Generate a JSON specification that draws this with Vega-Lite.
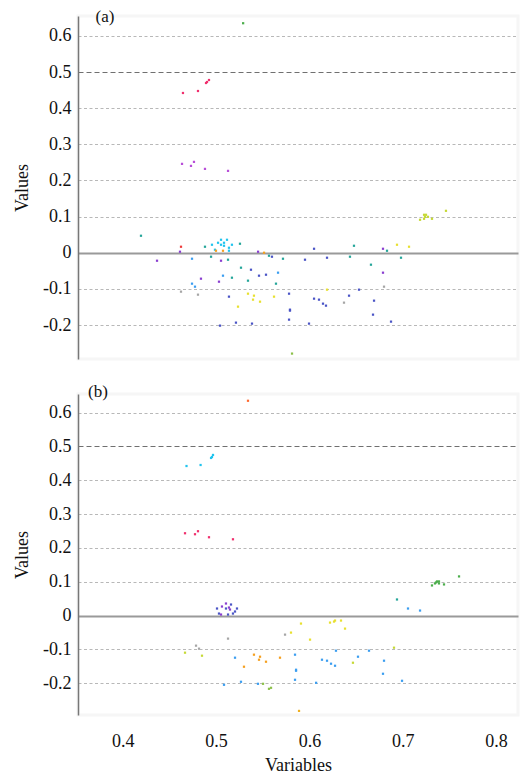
{
  "$schema": "https://vega.github.io/schema/vega-lite/v6.json",
  "background": "white",
  "padding": {"left": 12, "top": 6, "right": 0, "bottom": 4},
  "bounds": "flush",
  "spacing": 35,
  "config": {
    "view": {"stroke": "#f6f6f6", "strokeWidth": 3},
    "font": "Liberation Serif, Times New Roman, serif",
    "text": {"font": "Liberation Serif, Times New Roman, serif"},
    "axis": {
      "labelFont": "Liberation Serif, Times New Roman, serif",
      "labelFontSize": 18,
      "labelColor": "#111",
      "titleFont": "Liberation Serif, Times New Roman, serif",
      "titleFontSize": 18,
      "titleFontWeight": "normal",
      "titleColor": "#111"
    }
  },
  "datasets": {
    "a": [
      {"x": 0.529, "y": 0.635, "g": "green"},
      {"x": 0.4645, "y": 0.442, "g": "pink"},
      {"x": 0.4806, "y": 0.4475, "g": "pink"},
      {"x": 0.4892, "y": 0.4696, "g": "pink"},
      {"x": 0.4903, "y": 0.4724, "g": "pink"},
      {"x": 0.4924, "y": 0.4779, "g": "pink"},
      {"x": 0.4635, "y": 0.2459, "g": "magenta"},
      {"x": 0.4731, "y": 0.2403, "g": "magenta"},
      {"x": 0.4763, "y": 0.2514, "g": "magenta"},
      {"x": 0.4881, "y": 0.232, "g": "magenta"},
      {"x": 0.5128, "y": 0.2265, "g": "magenta"},
      {"x": 0.4195, "y": 0.047, "g": "teal"},
      {"x": 0.4624, "y": 0.0166, "g": "red"},
      {"x": 0.4613, "y": 0.0028, "g": "purple"},
      {"x": 0.4367, "y": -0.0221, "g": "purple"},
      {"x": 0.4742, "y": -0.0166, "g": "lblue"},
      {"x": 0.4881, "y": 0.0166, "g": "teal"},
      {"x": 0.4956, "y": 0.0221, "g": "cyan"},
      {"x": 0.4988, "y": 0.0083, "g": "cyan"},
      {"x": 0.4999, "y": 0.0055, "g": "orange"},
      {"x": 0.5021, "y": 0.0276, "g": "cyan"},
      {"x": 0.5053, "y": 0.0359, "g": "cyan"},
      {"x": 0.5053, "y": 0.0221, "g": "cyan"},
      {"x": 0.5074, "y": 0.0055, "g": "orange"},
      {"x": 0.5085, "y": 0.0276, "g": "cyan"},
      {"x": 0.5085, "y": 0.0193, "g": "cyan"},
      {"x": 0.5117, "y": 0.0359, "g": "cyan"},
      {"x": 0.5138, "y": 0.0138, "g": "cyan"},
      {"x": 0.5138, "y": 0.0055, "g": "cyan"},
      {"x": 0.517, "y": 0.0221, "g": "cyan"},
      {"x": 0.5256, "y": 0.0249, "g": "teal"},
      {"x": 0.4946, "y": -0.011, "g": "teal"},
      {"x": 0.5053, "y": -0.0221, "g": "purple"},
      {"x": 0.5128, "y": -0.0193, "g": "teal"},
      {"x": 0.5267, "y": -0.0414, "g": "teal"},
      {"x": 0.5374, "y": -0.047, "g": "blue"},
      {"x": 0.546, "y": -0.0635, "g": "blue"},
      {"x": 0.5074, "y": -0.0635, "g": "lblue"},
      {"x": 0.517, "y": -0.0691, "g": "teal"},
      {"x": 0.5342, "y": -0.0773, "g": "teal"},
      {"x": 0.4838, "y": -0.0718, "g": "purple"},
      {"x": 0.5031, "y": -0.0801, "g": "purple"},
      {"x": 0.4742, "y": -0.0856, "g": "lblue"},
      {"x": 0.4774, "y": -0.0939, "g": "lblue"},
      {"x": 0.4624, "y": -0.1077, "g": "gray"},
      {"x": 0.4806, "y": -0.116, "g": "gray"},
      {"x": 0.5138, "y": -0.1215, "g": "blue"},
      {"x": 0.5342, "y": -0.1133, "g": "yellow"},
      {"x": 0.5406, "y": -0.1188, "g": "yellow"},
      {"x": 0.5396, "y": -0.1298, "g": "yellow"},
      {"x": 0.5471, "y": -0.1354, "g": "yellow"},
      {"x": 0.5235, "y": -0.1492, "g": "yellow"},
      {"x": 0.5213, "y": -0.1934, "g": "blue"},
      {"x": 0.5042, "y": -0.2017, "g": "blue"},
      {"x": 0.5385, "y": -0.1961, "g": "blue"},
      {"x": 0.5514, "y": 0.0, "g": "orange"},
      {"x": 0.5567, "y": -0.0083, "g": "teal"},
      {"x": 0.5599, "y": -0.011, "g": "blue"},
      {"x": 0.5717, "y": -0.0166, "g": "teal"},
      {"x": 0.605, "y": 0.011, "g": "blue"},
      {"x": 0.5953, "y": -0.0193, "g": "blue"},
      {"x": 0.6189, "y": -0.0138, "g": "blue"},
      {"x": 0.6478, "y": 0.0193, "g": "teal"},
      {"x": 0.6435, "y": -0.011, "g": "teal"},
      {"x": 0.6789, "y": 0.011, "g": "purple"},
      {"x": 0.6832, "y": 0.0055, "g": "teal"},
      {"x": 0.6982, "y": -0.0138, "g": "teal"},
      {"x": 0.6939, "y": 0.0221, "g": "yellow"},
      {"x": 0.7068, "y": 0.0166, "g": "yellow"},
      {"x": 0.666, "y": -0.0331, "g": "teal"},
      {"x": 0.5535, "y": -0.0608, "g": "blue"},
      {"x": 0.5664, "y": -0.0552, "g": "lblue"},
      {"x": 0.6789, "y": -0.0552, "g": "purple"},
      {"x": 0.5642, "y": -0.0856, "g": "teal"},
      {"x": 0.6189, "y": -0.1022, "g": "yellow"},
      {"x": 0.6532, "y": -0.1022, "g": "blue"},
      {"x": 0.68, "y": -0.0939, "g": "gray"},
      {"x": 0.5621, "y": -0.1215, "g": "yellow"},
      {"x": 0.5782, "y": -0.1133, "g": "blue"},
      {"x": 0.605, "y": -0.1271, "g": "blue"},
      {"x": 0.6103, "y": -0.1298, "g": "blue"},
      {"x": 0.6146, "y": -0.1409, "g": "blue"},
      {"x": 0.6178, "y": -0.1464, "g": "blue"},
      {"x": 0.6371, "y": -0.1381, "g": "gray"},
      {"x": 0.6425, "y": -0.1188, "g": "blue"},
      {"x": 0.6693, "y": -0.1326, "g": "blue"},
      {"x": 0.5792, "y": -0.1575, "g": "blue"},
      {"x": 0.5792, "y": -0.1602, "g": "blue"},
      {"x": 0.5782, "y": -0.1851, "g": "blue"},
      {"x": 0.5996, "y": -0.1961, "g": "blue"},
      {"x": 0.6682, "y": -0.1713, "g": "blue"},
      {"x": 0.6875, "y": -0.1906, "g": "blue"},
      {"x": 0.5814, "y": -0.279, "g": "lime"},
      {"x": 0.7229, "y": 0.105, "g": "ygreen"},
      {"x": 0.725, "y": 0.105, "g": "ygreen"},
      {"x": 0.7239, "y": 0.0994, "g": "ygreen"},
      {"x": 0.7271, "y": 0.0994, "g": "ygreen"},
      {"x": 0.7229, "y": 0.0939, "g": "ygreen"},
      {"x": 0.7186, "y": 0.0912, "g": "ygreen"},
      {"x": 0.7314, "y": 0.0939, "g": "ygreen"},
      {"x": 0.7464, "y": 0.116, "g": "ygreen"},
      {"x": 0.545, "y": 0.0028, "g": "purple"}
    ],
    "b": [
      {"x": 0.5342, "y": 0.635, "g": "orangered"},
      {"x": 0.4683, "y": 0.4421, "g": "cyan"},
      {"x": 0.4834, "y": 0.4451, "g": "cyan"},
      {"x": 0.4946, "y": 0.4659, "g": "cyan"},
      {"x": 0.4956, "y": 0.4688, "g": "cyan"},
      {"x": 0.4967, "y": 0.4748, "g": "cyan"},
      {"x": 0.4667, "y": 0.2433, "g": "pink"},
      {"x": 0.4774, "y": 0.2404, "g": "pink"},
      {"x": 0.4806, "y": 0.2493, "g": "pink"},
      {"x": 0.4924, "y": 0.2315, "g": "pink"},
      {"x": 0.5181, "y": 0.2255, "g": "pink"},
      {"x": 0.501, "y": 0.0208, "g": "blue"},
      {"x": 0.5063, "y": 0.0267, "g": "purple"},
      {"x": 0.5106, "y": 0.0356, "g": "purple"},
      {"x": 0.516, "y": 0.0326, "g": "blue"},
      {"x": 0.5138, "y": 0.0237, "g": "purple"},
      {"x": 0.5106, "y": 0.0208, "g": "blue"},
      {"x": 0.5149, "y": 0.0178, "g": "purple"},
      {"x": 0.5224, "y": 0.0208, "g": "blue"},
      {"x": 0.5031, "y": 0.0059, "g": "blue"},
      {"x": 0.5053, "y": 0.003, "g": "purple"},
      {"x": 0.5128, "y": 0.003, "g": "blue"},
      {"x": 0.5181, "y": 0.0059, "g": "blue"},
      {"x": 0.5203, "y": 0.0119, "g": "blue"},
      {"x": 0.5128, "y": -0.0682, "g": "gray"},
      {"x": 0.4785, "y": -0.089, "g": "gray"},
      {"x": 0.4817, "y": -0.0979, "g": "gray"},
      {"x": 0.4667, "y": -0.1098, "g": "ygreen"},
      {"x": 0.4849, "y": -0.1187, "g": "ygreen"},
      {"x": 0.5203, "y": -0.1246, "g": "lblue"},
      {"x": 0.5406, "y": -0.1157, "g": "orange"},
      {"x": 0.5471, "y": -0.1217, "g": "orange"},
      {"x": 0.546, "y": -0.1306, "g": "orange"},
      {"x": 0.5299, "y": -0.1513, "g": "orange"},
      {"x": 0.5267, "y": -0.1958, "g": "lblue"},
      {"x": 0.5085, "y": -0.2047, "g": "lblue"},
      {"x": 0.5449, "y": -0.2018, "g": "lblue"},
      {"x": 0.5535, "y": -0.1365, "g": "orange"},
      {"x": 0.5685, "y": -0.1246, "g": "orange"},
      {"x": 0.5739, "y": -0.0564, "g": "gray"},
      {"x": 0.5803, "y": -0.0504, "g": "yellow"},
      {"x": 0.591, "y": -0.0237, "g": "yellow"},
      {"x": 0.6007, "y": -0.0712, "g": "yellow"},
      {"x": 0.5846, "y": -0.1157, "g": "lblue"},
      {"x": 0.5857, "y": -0.1602, "g": "lblue"},
      {"x": 0.5857, "y": -0.1632, "g": "lblue"},
      {"x": 0.5846, "y": -0.1899, "g": "lblue"},
      {"x": 0.6072, "y": -0.1988, "g": "lblue"},
      {"x": 0.5567, "y": -0.2166, "g": "lime"},
      {"x": 0.5589, "y": -0.2136, "g": "lime"},
      {"x": 0.5503, "y": -0.2018, "g": "lime"},
      {"x": 0.5889, "y": -0.2819, "g": "gold"},
      {"x": 0.6221, "y": -0.0208, "g": "yellow"},
      {"x": 0.6264, "y": -0.0178, "g": "yellow"},
      {"x": 0.6275, "y": -0.0148, "g": "yellow"},
      {"x": 0.6339, "y": -0.0148, "g": "yellow"},
      {"x": 0.6382, "y": -0.0386, "g": "yellow"},
      {"x": 0.6135, "y": -0.1306, "g": "lblue"},
      {"x": 0.6189, "y": -0.1335, "g": "lblue"},
      {"x": 0.6232, "y": -0.1424, "g": "lblue"},
      {"x": 0.6275, "y": -0.1484, "g": "lblue"},
      {"x": 0.6285, "y": -0.1039, "g": "lblue"},
      {"x": 0.6467, "y": -0.1395, "g": "ygreen"},
      {"x": 0.6521, "y": -0.1217, "g": "lblue"},
      {"x": 0.6639, "y": -0.1039, "g": "lblue"},
      {"x": 0.68, "y": -0.1335, "g": "lblue"},
      {"x": 0.6789, "y": -0.1721, "g": "lblue"},
      {"x": 0.6993, "y": -0.1929, "g": "lblue"},
      {"x": 0.6907, "y": -0.095, "g": "ygreen"},
      {"x": 0.6939, "y": 0.0475, "g": "teal"},
      {"x": 0.7057, "y": 0.0208, "g": "lblue"},
      {"x": 0.7186, "y": 0.0148, "g": "lblue"},
      {"x": 0.7314, "y": 0.089, "g": "green"},
      {"x": 0.7346, "y": 0.095, "g": "green"},
      {"x": 0.7368, "y": 0.1009, "g": "green"},
      {"x": 0.7389, "y": 0.1009, "g": "green"},
      {"x": 0.7389, "y": 0.095, "g": "green"},
      {"x": 0.7357, "y": 0.0979, "g": "green"},
      {"x": 0.7443, "y": 0.092, "g": "green"},
      {"x": 0.7604, "y": 0.1157, "g": "green"}
    ]
  },
  "vconcat": [
    {
      "width": 440,
      "height": 343,
      "layer": [
        {
          "data": {"name": "a"},
          "mark": {"type": "square", "size": 5, "filled": true, "opacity": 1},
          "encoding": {
            "x": {"field": "x", "type": "quantitative", "scale": {"domain": [0.352, 0.8236], "nice": false, "zero": false}, "axis": null},
            "y": {
              "field": "y", "type": "quantitative",
              "scale": {"domain": [-0.294, 0.655], "nice": false, "zero": false},
              "axis": {
                "title": "Values",
                "values": [-0.2, -0.1, 0, 0.1, 0.2, 0.3, 0.4, 0.5, 0.6],
                "labelExpr": "datum.value == 0 ? '0' : (datum.value < 0 ? '-' + format(-datum.value, '.1f') : format(datum.value, '.1f'))",
                "ticks": false, "tickSize": 0, "labelPadding": 7, "titlePadding": 11,
                "domainColor": "#777", "domainWidth": 1.5,
                "grid": true,
                "gridColor": {"condition": [{"test": "abs(datum.value) < 0.001", "value": "#9a9a9a"}, {"test": "abs(datum.value - 0.5) < 0.001", "value": "#707070"}], "value": "#b8b8b8"},
                "gridDash": {"condition": [{"test": "abs(datum.value) < 0.001", "value": []}, {"test": "abs(datum.value - 0.5) < 0.001", "value": [5, 3]}], "value": [3, 2.5]},
                "gridWidth": {"condition": {"test": "abs(datum.value) < 0.001", "value": 2}, "value": 1}
              }
            },
            "color": {
              "field": "g", "type": "nominal", "legend": null,
              "scale": {
                "domain": ["green", "pink", "magenta", "cyan", "teal", "blue", "purple", "yellow", "ygreen", "gray", "orange", "red", "lblue", "lime", "orangered", "gold"],
                "range": ["#4cae4c", "#f0306e", "#b84fd8", "#22c4ee", "#26a69a", "#4b55c6", "#8a3fd0", "#e8e030", "#c6d936", "#a6a6a6", "#f5a020", "#ee3b3b", "#3c9ef0", "#8cc04a", "#ff6a30", "#f0b020"]
              }
            }
          }
        },
        {
          "data": {"values": [{}]},
          "mark": {"type": "text", "text": "(a)", "font": "Liberation Serif, Times New Roman, serif", "fontSize": 17, "color": "#111", "baseline": "middle", "align": "center"},
          "encoding": {
            "x": {"datum": 0.381, "type": "quantitative"},
            "y": {"datum": 0.652, "type": "quantitative"}
          }
        }
      ]
    },
    {
      "width": 440,
      "height": 321,
      "layer": [
        {
          "data": {"name": "b"},
          "mark": {"type": "square", "size": 5, "filled": true, "opacity": 1},
          "encoding": {
            "x": {
              "field": "x", "type": "quantitative",
              "scale": {"domain": [0.352, 0.8236], "nice": false, "zero": false},
              "axis": {"title": "Variables", "values": [0.4, 0.5, 0.6, 0.7, 0.8], "format": ".1f", "domain": false, "ticks": false, "tickSize": 0, "grid": false, "labelPadding": 17, "titlePadding": 6}
            },
            "y": {
              "field": "y", "type": "quantitative",
              "scale": {"domain": [-0.294, 0.655], "nice": false, "zero": false},
              "axis": {
                "title": "Values",
                "values": [-0.2, -0.1, 0, 0.1, 0.2, 0.3, 0.4, 0.5, 0.6],
                "labelExpr": "datum.value == 0 ? '0' : (datum.value < 0 ? '-' + format(-datum.value, '.1f') : format(datum.value, '.1f'))",
                "ticks": false, "tickSize": 0, "labelPadding": 7, "titlePadding": 11,
                "domainColor": "#777", "domainWidth": 1.5,
                "grid": true,
                "gridColor": {"condition": [{"test": "abs(datum.value) < 0.001", "value": "#9a9a9a"}, {"test": "abs(datum.value - 0.5) < 0.001", "value": "#707070"}], "value": "#b8b8b8"},
                "gridDash": {"condition": [{"test": "abs(datum.value) < 0.001", "value": []}, {"test": "abs(datum.value - 0.5) < 0.001", "value": [5, 3]}], "value": [3, 2.5]},
                "gridWidth": {"condition": {"test": "abs(datum.value) < 0.001", "value": 2}, "value": 1}
              }
            },
            "color": {
              "field": "g", "type": "nominal", "legend": null,
              "scale": {
                "domain": ["green", "pink", "magenta", "cyan", "teal", "blue", "purple", "yellow", "ygreen", "gray", "orange", "red", "lblue", "lime", "orangered", "gold"],
                "range": ["#4cae4c", "#f0306e", "#b84fd8", "#22c4ee", "#26a69a", "#4b55c6", "#8a3fd0", "#e8e030", "#c6d936", "#a6a6a6", "#f5a020", "#ee3b3b", "#3c9ef0", "#8cc04a", "#ff6a30", "#f0b020"]
              }
            }
          }
        },
        {
          "data": {"values": [{}]},
          "mark": {"type": "text", "text": "(b)", "font": "Liberation Serif, Times New Roman, serif", "fontSize": 17, "color": "#111", "baseline": "middle", "align": "center"},
          "encoding": {
            "x": {"datum": 0.3734, "type": "quantitative"},
            "y": {"datum": 0.662, "type": "quantitative"}
          }
        }
      ]
    }
  ]
}
